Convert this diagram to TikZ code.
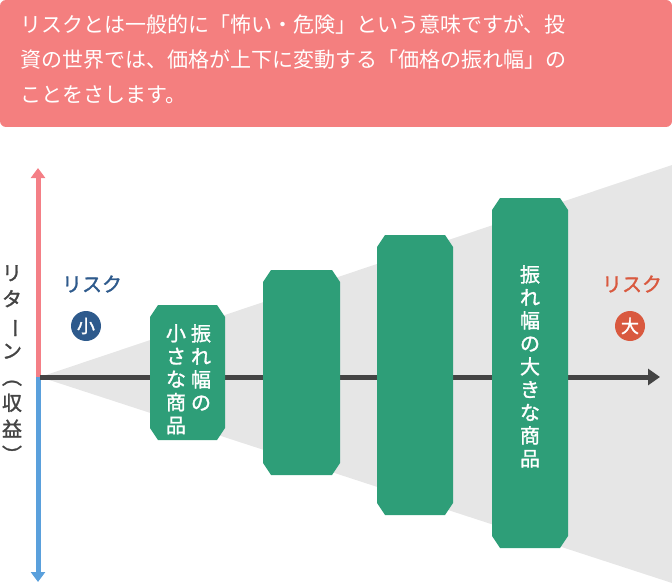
\documentclass[tikz,border=0pt]{standalone}
\usepackage{fontspec}
\usepackage{graphicx}
\usetikzlibrary{arrows.meta}
\newfontfamily\cjk{Noto Sans CJK JP}
\newfontfamily\cjkb[FakeBold=1.5]{Noto Sans CJK JP}
\definecolor{pinkbg}{HTML}{F47F7F}
\definecolor{grn}{HTML}{2E9E78}
\definecolor{axred}{HTML}{F47F86}
\definecolor{axblue}{HTML}{5AA0DC}
\definecolor{lblue}{HTML}{2E5A8C}
\definecolor{lred}{HTML}{D9593F}
\definecolor{greytri}{HTML}{E6E6E6}
\definecolor{darkar}{HTML}{444444}
\tikzset{
  vtxt/.style={text=white,font=\cjkb\fontsize{20}{23}\selectfont,align=center,inner sep=0pt},
  lbl/.style={font=\cjkb\fontsize{20}{22}\selectfont,inner sep=0pt},
  circ/.style={circle,fill=#1,text=white,minimum size=30pt,inner sep=0pt,font=\cjkb\fontsize{18}{20}\selectfont}
}
\newcommand{\bevel}[4]{% x1 y1 x2 y2
  \fill[grn] (#1+8,#2) -- (#3-8,#2) -- (#3,#2+12) -- (#3,#4-12) -- (#3-8,#4) -- (#1+8,#4) -- (#1,#4-12) -- (#1,#2+12) -- cycle;}
\newcommand{\rt}[1]{\rotatebox[origin=c]{-90}{#1}}
\begin{document}
\begin{tikzpicture}[x=1pt,y=-1pt]
\useasboundingbox (0,0) rectangle (672,583);
\fill[pinkbg,rounded corners=6pt] (0,0) rectangle (672,127);
\node[anchor=north west,text=white,font=\cjk\fontsize{21}{35}\selectfont,align=left,inner sep=0pt] (top) at (20,15)
 {リスクとは一般的に「怖い・危険」という意味ですが、投\\資の世界では、価格が上下に変動する「価格の振れ幅」の\\ことをさします。};
\fill[greytri] (40,377) -- (672,165) -- (672,583) -- cycle;
\coordinate (o) at (38,377);
\coordinate (up) at (38,168);
\coordinate (dn) at (38,582);
\coordinate (rt) at (660,377);
\draw[axred,line width=5pt,-{Triangle[length=10pt,width=14pt]}] (o) -- (up);
\draw[axblue,line width=5pt,-{Triangle[length=10pt,width=14pt]}] (o) -- (dn);
\draw[darkar,line width=5pt,-{Triangle[length=12pt,width=16pt]}] (40,377) -- (rt);
\node[lbl,text=darkar,align=center,font=\cjkb\fontsize{20}{26}\selectfont] (ylab) at (12,365) {リ\\タ\\\rt{ー}\\ン\\\rt{（}\\収\\益\\\rt{）}};
\bevel{150}{305}{225}{440}
\bevel{263}{270}{340}{475}
\bevel{377}{235}{453}{515}
\bevel{492}{198}{568}{548}
\node[vtxt,anchor=north] (s1) at (176,324) {小\\さ\\な\\商\\品};
\node[vtxt,anchor=north] (s1b) at (201,324) {振\\れ\\幅\\の};
\node[vtxt,anchor=north] (s4) at (530,265) {振\\れ\\幅\\の\\大\\き\\な\\商\\品};
\node[lbl,text=lblue] (rl) at (92,284) {リスク};
\node[circ=lblue] (cl) at (86,326) {小};
\node[lbl,text=lred] (rr) at (632,284) {リスク};
\node[circ=lred] (cr) at (630,326) {大};
\end{tikzpicture}
\end{document}
